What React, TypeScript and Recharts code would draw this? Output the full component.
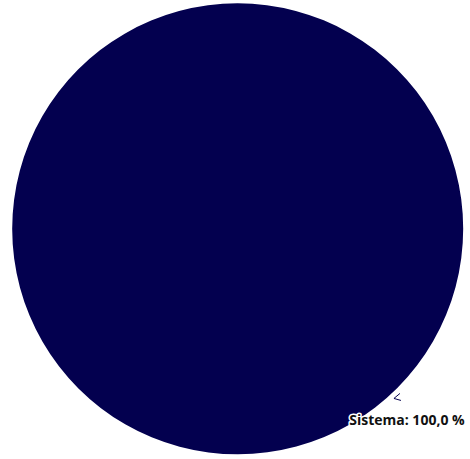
import React from 'react';
import { PieChart, Pie, Cell } from 'recharts';

const categories = ['Sistema'];
const values = [100];
const colors = ['#03004f'];

const data = categories.map((name, i) => ({ name, value: values[i] }));

const RADIAN = Math.PI / 180;

const renderLabel = (props: any) => {
  const { cx, cy, outerRadius, midAngle, name, percent } = props;
  const cos = Math.cos(-midAngle * RADIAN);
  const sin = Math.sin(-midAngle * RADIAN);
  const ex = cx + outerRadius * cos;
  const ey = cy + outerRadius * sin;
  const txt = `${name}: ${(percent * 100).toFixed(1).replace('.', ',')} %`;
  return (
    <g>
      <polyline
        points={`${ex + 3},${ey + 5} ${ex - 3},${ey + 10} ${ex + 4},${ey + 12}`}
        fill="none"
        stroke="#03004f"
        strokeWidth={1}
      />
      <text
        x={ex + 10}
        y={ey + 37}
        textAnchor="middle"
        fontFamily="'Open Sans', sans-serif"
        fontWeight={700}
        fontSize={14}
        fill="#111"
        stroke="#fff"
        strokeWidth={3}
        strokeLinejoin="round"
        paintOrder="stroke"
      >
        {txt}
      </text>
    </g>
  );
};

export default function App() {
  return (
    <div style={{ position: 'absolute', left: 0, top: 0, width: 470, height: 459, background: '#fff' }}>
      <PieChart width={470} height={459} margin={{ top: 0, right: 0, bottom: 0, left: 0 }}>
        <Pie
          data={data}
          dataKey="value"
          nameKey="name"
          cx={237.5}
          cy={229}
          outerRadius={225.5}
          startAngle={135}
          endAngle={-225}
          stroke="none"
          label={renderLabel}
          labelLine={false}
          isAnimationActive={false}
        >
          {data.map((d, i) => (
            <Cell key={d.name} fill={colors[i]} />
          ))}
        </Pie>
      </PieChart>
    </div>
  );
}
